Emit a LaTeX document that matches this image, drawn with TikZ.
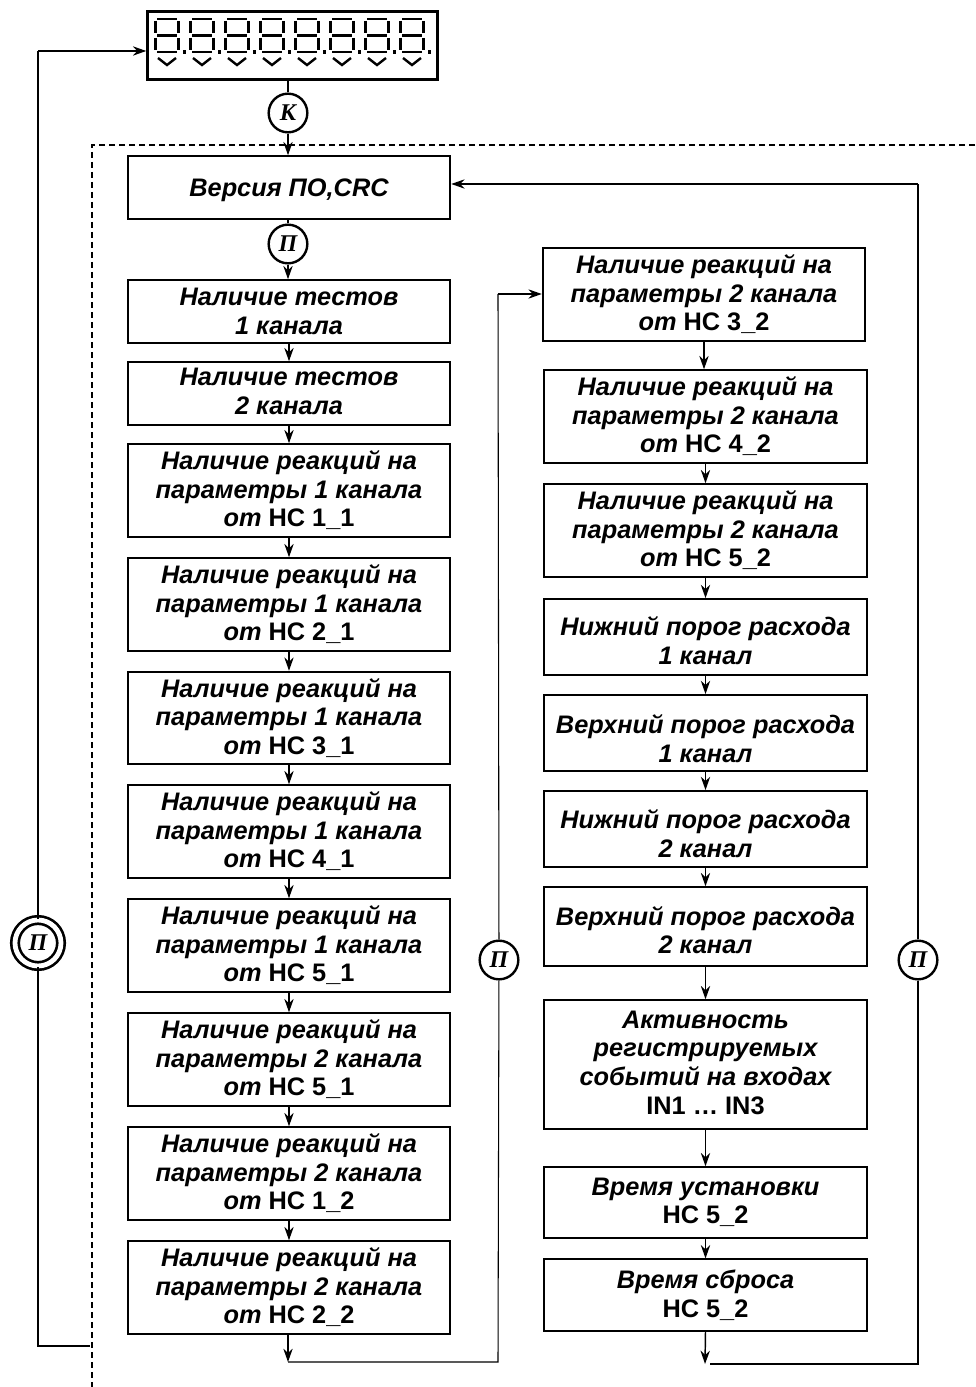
\documentclass[tikz,border=0pt]{standalone}
\usepackage{fontspec}
\setmainfont{Liberation Sans}
\newfontfamily\serifletter{Liberation Serif}
\usetikzlibrary{arrows.meta}
\newcommand{\rv}[1]{{\bfseries\itshape #1}}
\newcommand{\ns}[1]{\rv{от} {\bfseries НС #1}}
\newcommand{\drop}[1]{\rule{0pt}{#1}}
\newcommand{\lift}[1]{\rule[-#1]{0pt}{0pt}}
\tikzset{
    every node/.style={inner sep=0pt},
    flow/.style={line width=1.1pt,-{Stealth[length=10pt,width=7pt]}},
    link/.style={line width=0.8pt},
    blockbox/.style={draw,line width=1.4pt,minimum width=242pt,align=center,font=\fontsize{19}{21.4}\selectfont},
    tallbox/.style={blockbox,minimum height=69.5pt},
    lowbox/.style={blockbox,minimum height=47pt},
    midbox/.style={blockbox,minimum height=57pt},
    circ/.style={draw,circle,fill=white,line width=1.8pt,minimum size=29pt,font=\serifletter\fontsize{18}{18}\selectfont\bfseries\itshape},
    seg/.style={line width=1.8pt}
}
\begin{document}
\begin{tikzpicture}[x=0.75pt,y=-0.75pt]
        \useasboundingbox (0,0) rectangle (975,1387);
        % display
        \node[draw,line width=2.4pt,minimum width=217pt,minimum height=50.5pt] (display) at (292.5,45.5) {};
        \foreach \i in {0,...,7} {
            \begin{scope}[shift={(35*\i,0)}]
                \draw[seg] (157,19) -- (177,19) (157,35.5) -- (177,35.5) (157,52) -- (177,52);
                \draw[seg] (155.5,21) -- (155.5,33) (178.5,21) -- (178.5,33) (155.5,38) -- (155.5,50) (178.5,38) -- (178.5,50);
                \fill (182.5,50.5) rectangle (186,54);
                \draw[seg] (158,58) -- (167,65) -- (176,58);
            \end{scope}
        }
        % boundary
        \draw[line width=1.1pt,dash pattern=on 4.5pt off 3pt] (975,145) -- (92,145) -- (92,1387);
        % left column
        \node[tallbox,minimum height=47pt,text height=17pt] (ver) at (289,187.5) {\rv{Версия ПО,CRC}};
        \node[lowbox] (t1) at (289,311.5) {\rv{Наличие тестов}\\\rv{1 канала}};
        \node[lowbox] (t2) at (289,393.5) {\rv{Наличие тестов}\\\rv{2 канала}\lift{3.3pt}};
        \foreach \name/\yy/\ch/\nc in {a1/490.5/1/1\_1,a2/604.5/1/2\_1,a3/718/1/3\_1,a4/831.5/1/4\_1,a5/945.5/1/5\_1,a6/1059.5/2/5\_1,a7/1173.5/2/1\_2,a8/1287.5/2/2\_2}
            \node[tallbox] (\name) at (289,\yy) {\rv{Наличие реакций на}\\\rv{параметры \ch\ канала}\\\ns{\nc}};
        % right column
        \node[tallbox] (r1) at (704,294.5) {\rv{Наличие реакций на}\\\rv{параметры 2 канала}\\\ns{3\_2}};
        \node[tallbox] (r2) at (705.5,416.5) {\rv{Наличие реакций на}\\\rv{параметры 2 канала}\\\ns{4\_2}};
        \node[tallbox] (r3) at (705.5,530.5) {\rv{Наличие реакций на}\\\rv{параметры 2 канала}\\\ns{5\_2}};
        \node[midbox] (r4) at (705.5,637) {\drop{20pt}\rv{Нижний порог расхода}\\\rv{1 канал}};
        \node[midbox] (r5) at (705.5,733) {\drop{23pt}\rv{Верхний порог расхода}\\\rv{1 канал}};
        \node[midbox] (r6) at (705.5,829) {\drop{21.5pt}\rv{Нижний порог расхода}\\\rv{2 канал}};
        \node[blockbox,minimum height=59pt] (r7) at (705.5,926.5) {\drop{20pt}\rv{Верхний порог расхода}\\\rv{2 канал}};
        \node[blockbox,minimum height=96.5pt] (r8) at (705.5,1064.5) {\rv{Активность}\\\rv{регистрируемых}\\\rv{событий на входах}\\{\bfseries IN1 … IN3}\lift{3pt}};
        \node[blockbox,minimum height=53pt] (r9) at (705.5,1202.5) {\rv{Время установки}\\{\bfseries НС 5\_2}};
        \node[blockbox,minimum height=53.5pt] (r10) at (705.5,1295) {\rv{Время сброса}\\{\bfseries НС 5\_2}};
        % keys
        \node[circ] (keyk) at (288,113) {К};
        \node[circ] (keyp) at (288,244) {П};
        \node[circ] (keym) at (499,960) {П};
        \node[circ] (keyr) at (918,960) {П};
        \node[circ,double,double distance=3.6pt,line width=2pt,minimum size=34.5pt] (keyl) at (38,943) {П};
        % connectors
        \coordinate (lb) at (90,1346);
        \coordinate (lc) at (38,1346);
        \coordinate (lt) at (38,51);
        \coordinate (mb) at (288,1362);
        \coordinate (mc) at (498,1362);
        \coordinate (mt) at (498,294);
        \coordinate (rs) at (705,1364);
        \coordinate (rb) at (710,1364);
        \coordinate (rc) at (918,1364);
        \coordinate (rt) at (918,184);
        \draw[link,line width=1.1pt] (keyk) -- (keyk |- display.south);
        \draw[flow] (keyk) -- (keyk |- ver.north);
        \draw[link,line width=1.1pt] (ver.south -| keyp) -- (keyp);
        \draw[flow] (keyp) -- (keyp |- t1.north);
        \foreach \p/\q in {t1/t2,t2/a1,a1/a2,a2/a3,a3/a4,a4/a5,a5/a6,a6/a7,a7/a8}
            \draw[flow] (\p.south) -- (\q.north);
        \draw[flow] (r1.south) -- (r1.south |- r2.north);
        \foreach \p/\q in {r2/r3,r3/r4,r4/r5,r5/r6,r6/r7,r7/r8,r8/r9,r9/r10}
            \draw[flow] (\p.south) -- (\q.north);
        \draw[flow] (a8.south -| mb) -- (mb);
        \draw[link] (mb) -- (mc) -- (keym);
        \draw[link] (keym) -- (mt);
        \draw[flow] (mt) -- (mt -| r1.west);
        \draw[flow] (r10.south) -- (rs);
        \draw[link] (rb) -- (rc) -- (keyr);
        \draw[link] (keyr) -- (rt);
        \draw[flow] (rt) -- (rt -| ver.east);
        \draw[link] (lb) -- (lc) -- (keyl);
        \draw[link] (keyl) -- (lt);
        \draw[flow] (lt) -- (lt -| display.west);
    \end{tikzpicture}
\end{document}
